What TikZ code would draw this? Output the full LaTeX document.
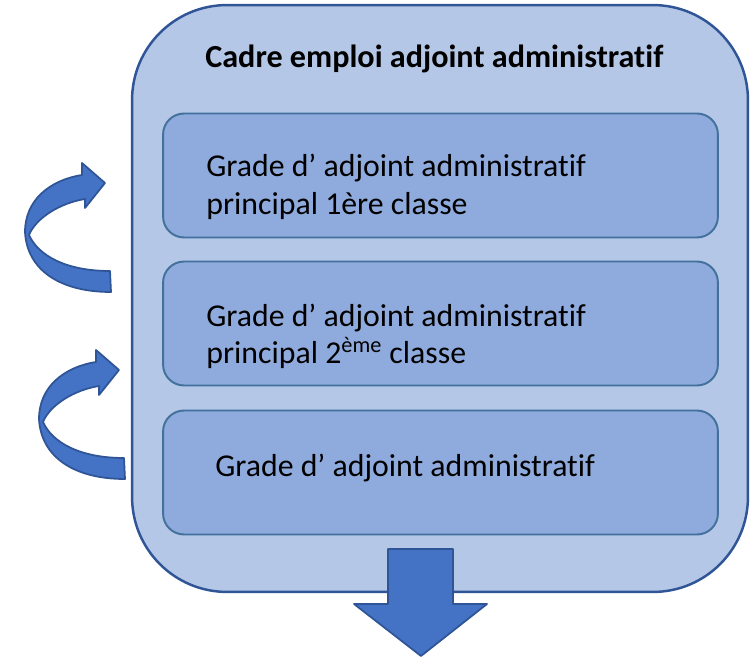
\documentclass[tikz,border=0pt]{standalone}
\usepackage{fontspec}
\setmainfont{Carlito}[Ligatures={NoCommon,NoRare}]
\definecolor{cadrefill}{HTML}{B4C7E7}
\definecolor{cadreline}{HTML}{2F5597}
\definecolor{gradefill}{HTML}{8FAADC}
\definecolor{gradeline}{HTML}{41719C}
\definecolor{flechefill}{HTML}{4472C4}
\begin{document}
\begin{tikzpicture}[x=0.02cm,y=-0.02cm]
\useasboundingbox (0,0) rectangle (751,658);
\tikzstyle{cadre}=[draw=cadreline, fill=cadrefill, line width=1.4pt, rounded corners=1.9cm, minimum width=12.32cm, minimum height=11.74cm]
\tikzstyle{grade}=[draw=gradeline, fill=gradefill, line width=1.1pt, rounded corners=0.42cm, minimum width=11.1cm, minimum height=2.48cm]
\tikzstyle{txt}=[anchor=base west, inner sep=0pt, font=\fontsize{18.1}{21.6}\selectfont]
\tikzstyle{fleche}=[draw=cadreline, fill=flechefill, line width=1pt, line join=round]
\node[cadre](cadre) at (440,298.5){};
\node[txt, font=\fontsize{18.3}{21.6}\selectfont\bfseries](titre) at (205,68){Cadre emploi adjoint administratif};
\node[grade](g1) at (440.5,175.5){};
\node[grade](g2) at (440.5,323.5){};
\node[grade](g3) at (440.5,472.5){};
\node[txt](t1a) at (206,177){Grade d’ adjoint administratif};
\node[txt](t1b) at (206,215){principal 1ère classe};
\node[txt](t2a) at (206,327){Grade d’ adjoint administratif};
\node[txt](t2b) at (206,364){principal 2\textsuperscript{ème} classe};
\node[txt](t3) at (215,477){Grade d’ adjoint administratif};
% fleche vers le bas
\draw[fleche] (388,549) -- (453,549) -- (453,604) -- (487,604) -- (421,656) -- (354,604) -- (388,604) -- cycle;
% fleches courbes
\foreach \dx/\dy in {0/0,14/187}{
 \draw[fleche, shift={(\dx,\dy)}] (111,292) .. controls (60,292) and (27,270) .. (25,232)
  .. controls (25,200) and (50,180) .. (82,175) -- (82,163) -- (105,183) -- (85,208) -- (85,199)
  .. controls (60,203) and (36,218) .. (29,235)
  .. controls (38,255) and (65,271) .. (110,271) -- cycle;
}
\end{tikzpicture}
\end{document}
